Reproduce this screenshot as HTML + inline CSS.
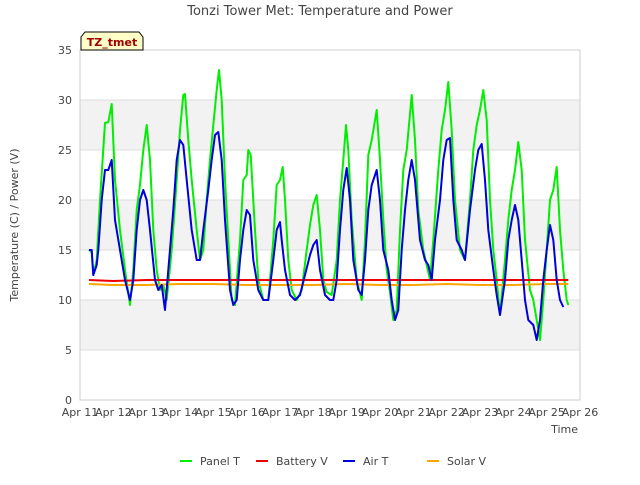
<!DOCTYPE html>
<html><head><meta charset="utf-8"><style>
body{margin:0;background:#fff;font-family:"Liberation Sans","DejaVu Sans",sans-serif;}
svg text{font-family:"DejaVu Sans","Liberation Sans",sans-serif;}
</style></head><body>
<svg id="chart" width="640" height="480" viewBox="0 0 640 480">
<rect width="640" height="480" fill="#fff"/>
<text x="320" y="15" text-anchor="middle" font-size="13" fill="#444">Tonzi Tower Met: Temperature and Power</text>
<g id="bands"></g>
<g id="grid"></g>
<rect x="80" y="50" width="500" height="350" fill="none" stroke="#ccc"/>
<g id="yticks"></g><g id="xticks"></g>
<text x="18" y="225" transform="rotate(-90 18 225)" text-anchor="middle" font-size="11" fill="#444">Temperature (C) / Power (V)</text>
<text x="578" y="433" text-anchor="end" font-size="11" fill="#444">Time</text>
<g id="series"></g>
<g>
<path d="M81,50 L81,37 L85,32 L139,32 L143,37 L143,50 Z" fill="#ffffc8" stroke="#000"/>
<text x="112" y="46" text-anchor="middle" font-size="11" font-weight="bold" fill="#a00000">TZ_tmet</text>
</g>
<g id="legend"></g>
</svg>
<script>
const yTicks=[0,5,10,15,20,25,30,35];
const xTickLabels=["Apr 11","Apr 12","Apr 13","Apr 14","Apr 15","Apr 16","Apr 17","Apr 18","Apr 19","Apr 20","Apr 21","Apr 22","Apr 23","Apr 24","Apr 25","Apr 26"];
const panelDays=[0.27,0.35,0.4,0.5,0.6,0.75,0.85,0.95,1.05,1.2,1.35,1.5,1.6,1.7,1.8,1.9,2.0,2.1,2.2,2.3,2.4,2.5,2.6,2.75,2.9,3.0,3.1,3.15,3.25,3.35,3.5,3.6,3.7,3.8,3.9,4.0,4.1,4.17,4.25,4.35,4.45,4.55,4.65,4.8,4.9,5.0,5.05,5.12,5.25,5.35,5.5,5.65,5.8,5.9,6.0,6.08,6.15,6.25,6.35,6.5,6.65,6.8,6.9,7.0,7.1,7.2,7.3,7.4,7.55,7.7,7.8,7.9,7.98,8.05,8.15,8.3,8.45,8.55,8.65,8.75,8.9,9.0,9.1,9.2,9.3,9.4,9.5,9.6,9.7,9.8,9.95,10.05,10.15,10.3,10.4,10.5,10.6,10.75,10.85,10.95,11.05,11.15,11.25,11.4,11.55,11.7,11.8,11.9,12.0,12.1,12.2,12.3,12.4,12.5,12.6,12.75,12.85,12.95,13.05,13.15,13.25,13.35,13.5,13.6,13.7,13.8,13.9,14.0,14.1,14.2,14.3,14.4,14.5,14.6,14.65];
const panelVals=[15,14.8,12.5,14,20,27.7,27.8,29.6,22,17,13,9.5,13,19,21.5,25,27.5,24,17,13,11,11.5,10,15,22,27,30.5,30.6,26,22,17,14,15,20,24,27.5,31,33,30,22,16,10,9.5,16,22,22.5,25,24.5,17,12,10,10,16,21.5,22,23.3,20,14,11,10,11,15,17.5,19.5,20.5,17,12,10.8,10.5,14,20,24,27.5,25,18,12,10,16,24.5,26,29,24,18,13,10.8,8,9,17,23,25,30.5,26,19,15,13.5,12,16,23,27,29,31.8,27,20,15,14,20,25,27.5,29,31,28,20,15,12,8.5,14,18,21,23,25.8,23,16,11,10,8,6,10,15,20,21,23.3,17,13,10,9.5];
const airDays=[0.27,0.35,0.4,0.5,0.55,0.65,0.75,0.85,0.95,1.05,1.2,1.35,1.5,1.6,1.7,1.8,1.9,2.0,2.1,2.25,2.35,2.45,2.55,2.65,2.8,2.9,3.0,3.1,3.2,3.35,3.5,3.6,3.7,3.85,3.95,4.05,4.15,4.25,4.35,4.5,4.6,4.7,4.8,4.9,5.0,5.1,5.2,5.35,5.5,5.65,5.8,5.9,6.0,6.05,6.15,6.3,6.45,6.6,6.75,6.9,7.0,7.1,7.2,7.35,7.5,7.6,7.7,7.8,7.9,8.0,8.1,8.2,8.35,8.45,8.55,8.65,8.75,8.9,9.0,9.1,9.25,9.35,9.45,9.55,9.65,9.75,9.85,9.95,10.05,10.2,10.35,10.45,10.55,10.65,10.8,10.9,11.0,11.1,11.2,11.3,11.45,11.55,11.7,11.85,11.95,12.05,12.15,12.25,12.4,12.5,12.6,12.75,12.85,12.95,13.05,13.15,13.25,13.35,13.45,13.6,13.7,13.8,13.9,14.0,14.1,14.2,14.3,14.4,14.5];
const airVals=[15,15,12.5,13.5,15,20,23,23,24,18,15,12,10,12,17,20,21,20,17,12,11,11.5,9,13,19,24,26,25.5,22,17,14,14,17,21,24,26.5,26.8,24,18,11,9.5,10,14,17,19,18.5,14,11,10,10,14,17,17.8,16,13,10.5,10,10.5,12.5,14.5,15.5,16,13,10.5,10,10,12,17,21,23.2,20,14,11,10.5,14,19,21.5,23,20,15,13,10,8,9,15,19,22,24,22,16,14,13.5,12,16,20,24,26,26.2,20,16,15,14,19,23,25,25.6,22,17,13,10.5,8.5,12,16,18,19.5,18,14,10,8,7.5,6,8,12,15,17.5,16,12,10,9.3];
const battDays=[0.27,1.0,2.0,3.0,4.0,5.0,6.0,7.0,8.0,9.0,10.0,11.0,12.0,13.0,14.0,14.65];
const battVals=[12.0,11.9,12.0,12.0,12.0,12.0,12.0,12.0,12.0,12.0,12.0,12.0,12.0,12.0,12.0,12.0];
const solarDays=[0.27,1.0,2.0,3.0,4.0,5.0,6.0,7.0,8.0,9.0,10.0,11.0,12.0,13.0,14.0,14.65];
const solarVals=[11.6,11.5,11.5,11.6,11.6,11.5,11.5,11.5,11.6,11.5,11.5,11.6,11.5,11.5,11.6,11.6];

const NS="http://www.w3.org/2000/svg";
const X0=80,X1=580,Y0=400,Y1=50;
function xs(d){return X0+d*(X1-X0)/15;}
function ys(v){return Y0-v*(Y0-Y1)/35;}
function mk(tag,attrs,parent){const e=document.createElementNS(NS,tag);for(const k in attrs)e.setAttribute(k,attrs[k]);parent.appendChild(e);return e;}
const bands=document.getElementById('bands'),grid=document.getElementById('grid'),yt=document.getElementById('yticks'),xt=document.getElementById('xticks');
for(let i=0;i<yTicks.length-1;i++){
  if(i%2===1){const r=mk('rect',{x:X0,y:ys(yTicks[i+1]),width:X1-X0,height:ys(yTicks[i])-ys(yTicks[i+1]),fill:'#f2f2f2'},bands);
  
  }
}
yTicks.forEach(v=>{
  const l=mk('line',{x1:X0,x2:X1,y1:ys(v),y2:ys(v),stroke:'#ddd'},grid);
  
  
  const t=mk('text',{x:X0-8,y:ys(v)+4,'text-anchor':'end','font-size':'11',fill:'#444'},yt);
  t.textContent=v;
  
  
});
xTickLabels.forEach((s,i)=>{
  const t=mk('text',{x:xs(i),y:Y0+16,'text-anchor':'middle','font-size':'11',fill:'#444'},xt);
  t.textContent=s;
  
  
});
const ser=document.getElementById('series');
function line(days,vals,color,name){
  const p=days.map((d,i)=>(i?'L':'M')+xs(d).toFixed(1)+','+ys(vals[i]).toFixed(1)).join('');
  const e=mk('path',{d:p,fill:'none',stroke:color,'stroke-width':'2','stroke-linejoin':'round'},ser);
  
  
}
line(panelDays,panelVals,'#00ee00','panel-t-line');
line(battDays,battVals,'#ee0000','battery-v-line');
line(solarDays,solarVals,'#ffa500','solar-v-line');
line(airDays,airVals,'#0000dd','air-t-line');
const leg=document.getElementById('legend');
const items=[['Panel T','#00ee00',180],['Battery V','#ee0000',256],['Air T','#0000dd',343],['Solar V','#ffa500',427]];
items.forEach(it=>{
  const g=mk('g',{},leg);
  
  
  mk('line',{x1:it[2],x2:it[2]+12,y1:461,y2:461,stroke:it[1],'stroke-width':'2'},g);
  const t=mk('text',{x:it[2]+20,y:465,'font-size':'11',fill:'#444'},g);
  t.textContent=it[0];
});
</script>
</body></html>
